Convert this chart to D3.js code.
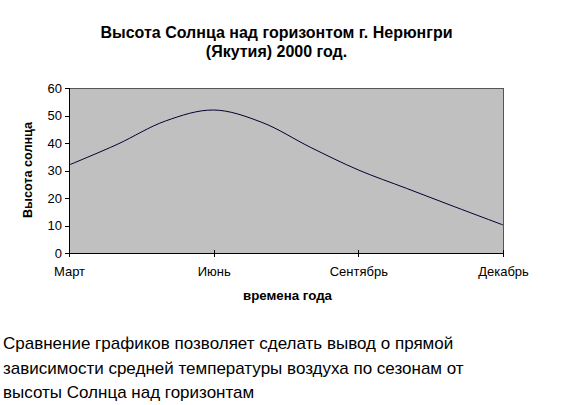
<!DOCTYPE html>
<html><head><meta charset="utf-8">
<script src="https://cdn.jsdelivr.net/npm/d3@7"></script>
<style>
body{margin:0;background:#fff;}
text{font-family:"Liberation Sans",Arial,sans-serif;}
</style></head>
<body>
<svg id="c" width="577" height="405"></svg>
<script>
const months = ["Март","Апрель","Май","Июнь","Июль","Август","Сентябрь","Октябрь","Ноябрь","Декабрь"];
const sunHeight = [32, 39.5, 48, 52, 47.5, 38.5, 30.2, 23.5, 16.8, 10.2];
const xTickLabels = ["Март","Июнь","Сентябрь","Декабрь"];
const yTicks = [0,10,20,30,40,50,60];
const titleLines = ["Высота Солнца над горизонтом г. Нерюнгри","(Якутия) 2000 год."];
const yTitle = "Высота солнца";
const xTitle = "времена года";
const noteLines = ["Сравнение графиков позволяет сделать вывод о прямой",
  "зависимости средней температуры воздуха по сезонам от",
  "высоты Солнца над горизонтам"];

const svg = d3.select("#c");
const L=69, R=503, T=88, B=253;
const x = d3.scalePoint().domain(months).range([L,R]);
const y = d3.scaleLinear().domain([0,60]).range([B,T]);

svg.append("rect").attr("x",L).attr("y",T).attr("width",R-L).attr("height",B-T)
  .attr("fill","#c0c0c0");
svg.append("path").attr("d",`M${L},${T}H${R}V${B}`).attr("fill","none")
  .attr("stroke","#555").attr("stroke-width",1).attr("shape-rendering","crispEdges");

const line = d3.line().x((d,i)=>x(months[i])).y(d=>y(d)).curve(d3.curveCatmullRom.alpha(0.5));
svg.append("path").datum(sunHeight).attr("d",line).attr("fill","none")
  .attr("stroke","#000030").attr("stroke-width",1);

// y axis
const ya = d3.axisLeft(y).tickValues(yTicks).tickSize(4).tickPadding(3);
const gy = svg.append("g").attr("transform",`translate(${L},0)`).call(ya);
gy.selectAll("text").style("font-size","13px").attr("fill","#000");
gy.selectAll("line,path").attr("stroke","#000").attr("shape-rendering","crispEdges");
gy.select(".domain").attr("d",`M0,${T}V${B}`);

// x axis
const xa = d3.axisBottom(x).tickValues(xTickLabels).tickSize(4).tickPadding(10);
const gx = svg.append("g").attr("transform",`translate(0,${B})`).call(xa);
gx.selectAll("text").style("font-size","13px").attr("fill","#000");
gx.selectAll("line").attr("y1",-3).attr("stroke","#000").attr("shape-rendering","crispEdges");
gx.select(".domain").attr("d",`M${L},0H${R}`).attr("stroke","#000").attr("shape-rendering","crispEdges");

// titles
svg.append("g").selectAll("text").data(titleLines).join("text")
  .attr("x",276.5).attr("y",(d,i)=>38+i*19).attr("text-anchor","middle")
  .style("font-size","16px").style("font-weight","bold").text(d=>d);

svg.append("text").attr("transform","translate(32,170) rotate(-90)")
  .attr("text-anchor","middle").style("font-size","13px").style("font-weight","bold")
  .attr("textLength",96).attr("lengthAdjust","spacingAndGlyphs").text(yTitle);

svg.append("text").attr("x",287.5).attr("y",300).attr("text-anchor","middle")
  .style("font-size","13px").style("font-weight","bold")
  .attr("textLength",89).attr("lengthAdjust","spacingAndGlyphs").text(xTitle);

svg.append("g").selectAll("text").data(noteLines).join("text")
  .attr("x",3).attr("y",(d,i)=>349+i*24.5)
  .style("font-size","17px").text(d=>d);
</script>
</body></html>
